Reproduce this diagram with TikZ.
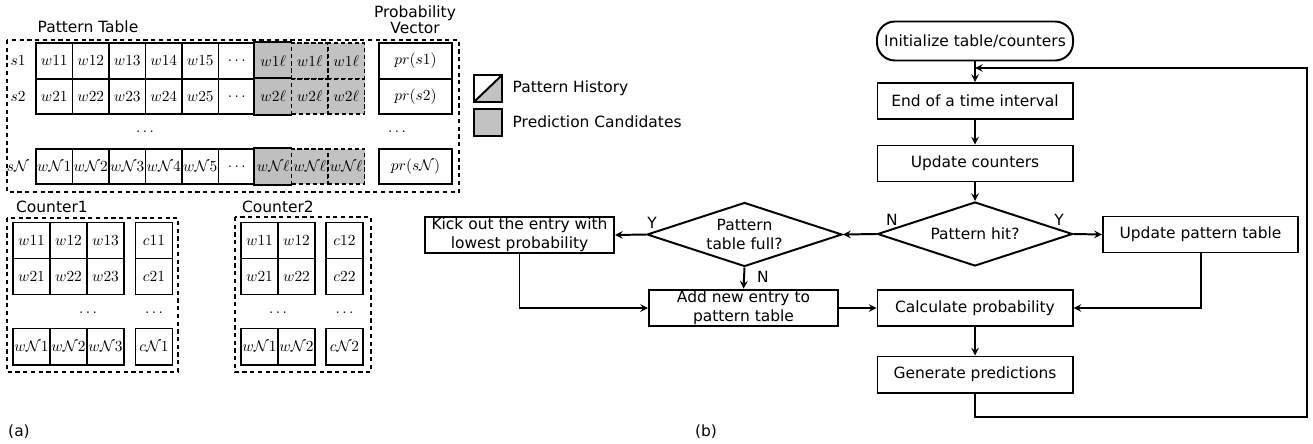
\documentclass[tikz,border=0pt]{standalone}
\usepackage{amssymb}
\usepackage[no-math]{fontspec}
\setmainfont{DejaVu Sans}
\usetikzlibrary{arrows, shapes.geometric}

\begin{document}
\begin{tikzpicture}[
        > = stealth, % arrow head style
        x = 0.025cm, y = -0.025cm, % one unit is one pixel of the layout
        line width = 1.4pt, % line style
        font = \fontsize{11}{13.5}\selectfont
    ]

    \tikzstyle{cell}=[
        draw = black,
        minimum width = 0.9125cm,
        minimum height = 0.8875cm,
        inner sep = 0pt,
        font = \fontsize{10.5}{12}\selectfont
    ]
    \tikzstyle{hist}=[cell, draw = none, fill = gray!50]
    \tikzstyle{cand}=[cell, fill = gray!48, dash pattern = on 3pt off 2pt]
    \tikzstyle{ccell}=[cell, minimum width = 0.925cm, minimum height = 0.9cm]
    \tikzstyle{group}=[dash pattern = on 3pt off 2.5pt]
    \tikzstyle{legendbox}=[
        draw = black,
        minimum width = 0.7cm,
        minimum height = 0.67cm,
        inner sep = 0pt
    ]
    \tikzstyle{proc}=[
        draw = black,
        minimum width = 4.875cm,
        minimum height = 0.9cm,
        inner sep = 1pt,
        align = center
    ]
    \tikzstyle{decide}=[
        draw = black,
        diamond,
        aspect = 3.1,
        minimum width = 4.875cm,
        minimum height = 1.6cm,
        inner sep = 0pt,
        align = center
    ]
    \tikzstyle{start}=[
        draw = black,
        rounded corners = 0.45cm,
        minimum width = 4.9cm,
        minimum height = 0.975cm,
        inner sep = 0pt
    ]

    \useasboundingbox (0,0) rectangle (1313,443);

    % (a) pattern table
    \node (ptitle) at (88,27) {Pattern Table};
    \node[align = center] (pvtitle) at (415,20) {Probability\\[-2pt]Vector};
    \draw[group] (7,40) rectangle (459,192);

    \foreach \r/\y/\l in {1/61/1, 2/96.5/2, n/166.5/\mathcal{N}} {
        \node[inner sep = 0pt, font = \fontsize{10.5}{12}\selectfont] (s\r) at (18,\y) {$s\l$};
        \foreach \c in {1,...,5}
            \node[cell] (t\r-\c) at (17.75+36.5*\c,\y) {$w\l\c$};
        \node[cell] (t\r-6) at (236.75,\y) {$\dots$};
        \node[hist] (t\r-7) at (273.25,\y) {$w\l\ell$};
        \draw (t\r-7.north east) -- (t\r-7.north west) |- (t\r-7.south east);
        \node[cand] (t\r-8) at (309.75,\y) {$w\l\ell$};
        \node[cand] (t\r-9) at (346.25,\y) {$w\l\ell$};
        \node[cell, minimum width = 1.825cm] (p\r) at (415.5,\y) {$pr(s\l)$};
    }
    \node (tdots) at (145,132) {$\dots$};
    \node (pdots) at (397,132) {$\dots$};

    % legend
    \node[legendbox, path picture = {
        \fill[gray!48] (path picture bounding box.south west)
            -- (path picture bounding box.north east)
            -- (path picture bounding box.south east) -- cycle;
        \draw (path picture bounding box.south west)
            -- (path picture bounding box.north east);
    }] (lhist) at (488,88.5) {};
    \node[legendbox, fill = gray!48] (lcand) at (488,122.5) {};
    \node[anchor = west] (lhtext) at (507,88) {Pattern History};
    \node[anchor = west] (lctext) at (507,122) {Prediction Candidates};

    % counters
    \node (c1title) at (52,207) {Counter1};
    \node (c2title) at (278,207) {Counter2};
    \draw[group] (7,218) rectangle (178,372);
    \draw[group] (235,217) rectangle (371,372);

    \foreach \r/\y/\l in {1/240.5/1, 2/276.5/2, n/346.5/\mathcal{N}} {
        \foreach \c in {1,2,3}
            \node[ccell] (a\r-\c) at (-5.5+37*\c,\y) {$w\l\c$};
        \node[ccell] (ac\r) at (154,\y) {$c\l1$};
        \foreach \c in {1,2}
            \node[ccell] (b\r-\c) at (222.5+37*\c,\y) {$w\l\c$};
        \node[ccell] (bc\r) at (344.5,\y) {$c\l2$};
    }
    \node (adots) at (88,313) {$\dots$};
    \node (acdots) at (154,313) {$\dots$};
    \node (bdots) at (278,313) {$\dots$};
    \node (bcdots) at (344.5,313) {$\dots$};

    \node (capa) at (19,432) {(a)};

    % (b) flow chart
    \node[start] (init) at (975,41) {Initialize table/counters};
    \node[proc] (endint) at (975,101) {End of a time interval};
    \node[proc] (updc) at (975,163.5) {Update counters};
    \node[decide] (hit) at (975,234) {Pattern hit?};
    \node[proc] (updp) at (1200.5,234.5) {Update pattern table};
    \node[decide] (full) at (744.5,234.5) {Pattern\\table full?};
    \node[proc, minimum width = 4.725cm] (kick) at (519.5,235)
        {Kick out the entry with\\lowest probability};
    \node[proc, minimum width = 4.725cm] (add) at (743.5,308)
        {Add new entry to\\pattern table};
    \node[proc] (calc) at (975,308) {Calculate probability};
    \node[proc] (gen) at (975,374.5) {Generate predictions};

    \node (hitn) at (892,220) {N};
    \node (hity) at (1059,220) {Y};
    \node (fully) at (652,223) {Y};
    \node (fulln) at (763,277) {N};

    \coordinate (back) at (975,68);
    \coordinate (loopdr) at (1307,417);
    \coordinate (loopur) at (1307,68);

    \path[->] (init) edge (endint);
    \path[->] (endint) edge (updc);
    \path[->] (updc) edge (hit);
    \path[->] (hit.east) edge (updp.west);
    \path[->] (hit.west) edge (full.east);
    \path[->] (full.west) edge (kick.east);
    \path[->] (full.south) edge (add.north);
    \draw[->] (kick.south) |- (add.west);
    \draw[->] (add.east) -- (calc.west);
    \draw[->] (updp.south) |- (calc.east);
    \path[->] (calc) edge (gen);
    \draw[->] (gen.south) |- (loopdr) -- (loopur) -- (back);

    \node (capb) at (706,432) {(b)};

\end{tikzpicture}
\end{document}
